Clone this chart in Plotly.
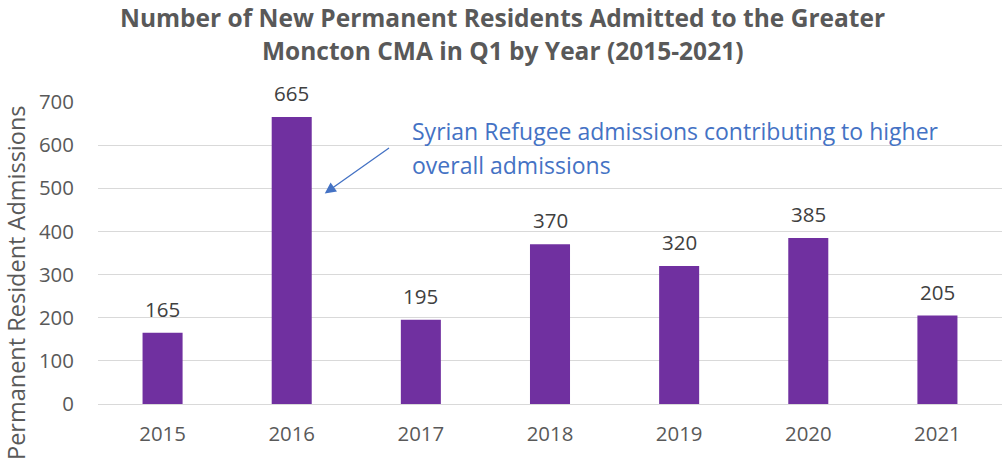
import plotly.graph_objects as go

years = ["2015", "2016", "2017", "2018", "2019", "2020", "2021"]
admissions = [165, 665, 195, 370, 320, 385, 205]
y_ticks = [0, 100, 200, 300, 400, 500, 600, 700]

title_lines = [
    "Number of New Permanent Residents Admitted to the Greater",
    "Moncton CMA in Q1 by Year (2015-2021)",
]
note_lines = [
    "Syrian Refugee admissions contributing to higher",
    "overall admissions",
]
y_title = "Permanent Resident Admissions"

FONT = "Open Sans"
W, H = 1005, 461
ML, MR, MT, MB = 98, 3, 102, 57
plot_w = W - ML - MR
plot_h = H - MT - MB
Y_MAX = 700


def px_to_paper_x(px):
    return (px - ML) / plot_w


def px_to_paper_y(py):
    return (H - MB - py) / plot_h


fig = go.Figure(
    go.Bar(
        x=years,
        y=admissions,
        width=0.31,
        marker=dict(color="#7030A0", line=dict(width=0)),
        hoverinfo="x+y",
    )
)

annotations = []

# value labels above each bar (x given as category index)
for i, v in enumerate(admissions):
    annotations.append(dict(
        text=str(v), x=i, y=v, xref="x", yref="y",
        xanchor="center", yanchor="middle", yshift=24, showarrow=False,
        font=dict(family=FONT, size=20.5, color="#404040"),
    ))

# two-line chart title
for line, py in zip(title_lines, [17, 51]):
    annotations.append(dict(
        text="<b>%s</b>" % line,
        xref="paper", yref="paper", x=px_to_paper_x(W / 2), y=px_to_paper_y(py),
        xanchor="center", yanchor="middle", showarrow=False,
        font=dict(family=FONT, size=24.5, color="#595959"),
    ))

# callout text about the 2016 spike
for line, py in zip(note_lines, [131, 165]):
    annotations.append(dict(
        text=line,
        xref="paper", yref="paper", x=px_to_paper_x(410), y=px_to_paper_y(py),
        xanchor="left", yanchor="middle", showarrow=False,
        font=dict(family=FONT, size=23, color="#4472C4"),
    ))

# callout arrow pointing at the 2016 bar
annotations.append(dict(
    text="",
    xref="x", yref="y", x=1.256, y=488,
    axref="x", ayref="y", ax=1.765, ay=596,
    showarrow=True, arrowhead=2, arrowsize=1.7, arrowwidth=1.3,
    arrowcolor="#4472C4", standoff=0,
))

# y-axis title
annotations.append(dict(
    text=y_title, textangle=-90,
    xref="paper", yref="paper", x=px_to_paper_x(16), y=px_to_paper_y(283),
    xanchor="center", yanchor="middle", showarrow=False,
    font=dict(family=FONT, size=23.5, color="#595959"),
))

fig.update_layout(
    width=W, height=H,
    margin=dict(l=ML, r=MR, t=MT, b=MB),
    paper_bgcolor="white", plot_bgcolor="white",
    showlegend=False,
    annotations=annotations,
    xaxis=dict(
        type="category",
        range=[-0.5, len(years) - 0.5],
        tickfont=dict(family=FONT, size=20.4, color="#595959"),
        ticks="outside", ticklen=12, tickcolor="rgba(0,0,0,0)",
        showgrid=False, showline=False, zeroline=False,
    ),
    yaxis=dict(
        range=[0, Y_MAX],
        tickvals=y_ticks,
        tickfont=dict(family=FONT, size=20.4, color="#595959"),
        ticks="outside", ticklen=19, tickcolor="rgba(0,0,0,0)",
        showgrid=True, gridcolor="#D9D9D9", gridwidth=1.3,
        zeroline=True, zerolinecolor="#D9D9D9", zerolinewidth=1.3,
        showline=False,
    ),
)

fig.write_html("out.html")
